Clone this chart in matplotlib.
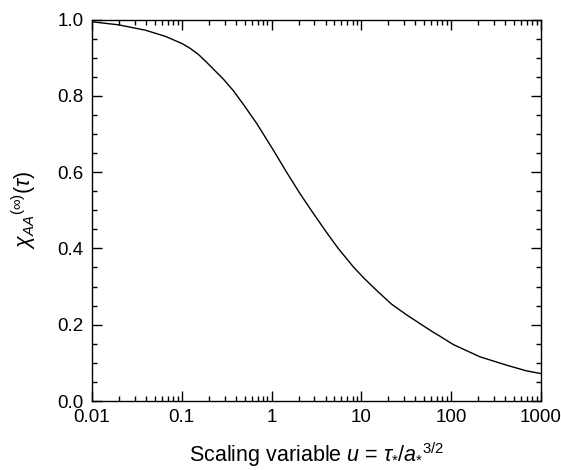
import numpy as np
import matplotlib.pyplot as plt
from matplotlib.ticker import FixedLocator, NullFormatter, MultipleLocator

plt.rcParams['font.family'] = ['Liberation Sans', 'DejaVu Sans']
plt.rcParams['mathtext.fontset'] = 'custom'
plt.rcParams['mathtext.rm'] = 'Liberation Sans'
plt.rcParams['mathtext.it'] = 'Liberation Sans:italic'

# curve
u_vals = [0.01, 0.0198, 0.0393, 0.0655, 0.1005, 0.123, 0.154, 0.189, 0.290,
          0.374, 0.484, 0.682, 1.045, 1.47, 2.07, 2.92, 4.10, 5.53, 8.13, 10.5,
          14.8, 21.7, 31.9, 45, 60.7, 75, 106, 209, 415, 692, 1000]
chi_vals = [0.994, 0.986, 0.972, 0.956, 0.937, 0.925, 0.908, 0.888, 0.844,
            0.814, 0.778, 0.728, 0.658, 0.600, 0.544, 0.492, 0.442, 0.400, 0.352, 0.324,
            0.290, 0.254, 0.226, 0.203, 0.183, 0.170, 0.148, 0.116, 0.094, 0.079, 0.072]

x_ticks = [0.01, 0.1, 1, 10, 100, 1000]
x_ticklabels = ['0.01', '0.1', '1', '10', '100', '1000']

fig = plt.figure(figsize=(5.61, 4.70), dpi=100)
ax = fig.add_axes([0.164, 0.1468, 0.8, 0.8117])

ax.plot(u_vals, chi_vals, color='black', lw=1.0)

ax.set_xscale('log')
ax.set_xlim(0.01, 1000)
ax.set_ylim(0.0, 1.0)

ax.xaxis.set_major_locator(FixedLocator(x_ticks))
ax.set_xticklabels(x_ticklabels)
minors = [m * d for d in [0.01, 0.1, 1, 10, 100] for m in range(2, 10)]
ax.xaxis.set_minor_locator(FixedLocator(minors))
ax.xaxis.set_minor_formatter(NullFormatter())
ax.yaxis.set_major_locator(MultipleLocator(0.2))
ax.yaxis.set_minor_locator(MultipleLocator(0.05))
ax.yaxis.set_major_formatter(plt.FormatStrFormatter('%.1f'))

ax.tick_params(which='both', direction='in', top=True, right=True,
               labelsize=13.5, width=1.0, pad=6)
ax.tick_params(which='major', length=7)
ax.tick_params(which='minor', length=3.6)
for s in ax.spines.values():
    s.set_linewidth(1.0)

ax.set_xlabel(r'Scaling variable $u$ = $\tau_{*}/a_{*}{}^{3/2}$', fontsize=15.5, labelpad=10)
ax.set_ylabel(r'$\chi_{AA}{}^{(\infty)}(\tau)$', fontsize=15.5, labelpad=14)

fig.savefig('out.png', dpi=100)
